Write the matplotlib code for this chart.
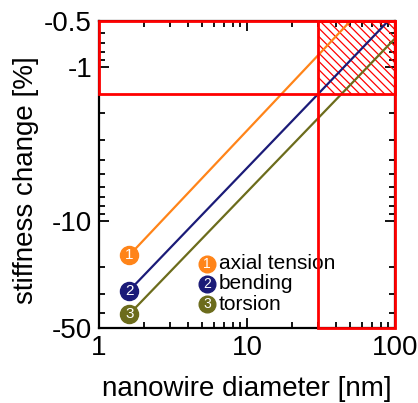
import numpy as np
import matplotlib.pyplot as plt
from matplotlib.patches import Rectangle
from matplotlib.ticker import FixedLocator, FixedFormatter, LogLocator, NullFormatter

plt.rcParams['font.family'] = ['Liberation Sans', 'DejaVu Sans']

# line endpoints (diameter in nm, |stiffness change| in %)
axial_d = [1.6, 50]
axial_s = [16.8, 0.5]
bending_d = [1.6, 90]
bending_s = [28.5, 0.5]
torsion_d = [1.6, 100]
torsion_s = [40.6, 0.65]

labels = ['axial tension', 'bending', 'torsion']
colors = ['#ff8419', '#1b1b78', '#6c6c1c']

# target window (diameter range, stiffness range)
win_d = [30, 100]
win_s = [0.5, 1.5]

y_ticks = [0.5, 1, 10, 50]
y_labels = ['-0.5', '-1', '-10', '-50']

fig = plt.figure(figsize=(4.18, 4.03), dpi=100)
ax = fig.add_axes([0.237, 0.186, 0.708, 0.762])

series = [(axial_d, axial_s), (bending_d, bending_s), (torsion_d, torsion_s)]
for i, ((d, s), c) in enumerate(zip(series, colors)):
    ax.plot(d, s, color=c, lw=1.6, zorder=3)
    ax.plot(d[0], s[0], 'o', color=c, ms=13, zorder=4)
    ax.annotate(str(i + 1), (d[0], s[0]), ha='center', va='center', color='white',
                fontsize=11, zorder=5)

ax.set_xscale('log')
ax.set_yscale('log')
ax.set_xlim(1, 100)
ax.set_ylim(50, 0.5)

ax.yaxis.set_major_locator(FixedLocator(y_ticks))
ax.yaxis.set_major_formatter(FixedFormatter(y_labels))
ax.yaxis.set_minor_locator(LogLocator(base=10, subs=range(2, 10)))
ax.yaxis.set_minor_formatter(NullFormatter())
ax.xaxis.set_major_locator(FixedLocator([1, 10, 100]))
ax.xaxis.set_major_formatter(FixedFormatter(['1', '10', '100']))
ax.xaxis.set_minor_locator(LogLocator(base=10, subs=range(2, 10)))
ax.xaxis.set_minor_formatter(NullFormatter())

ax.tick_params(which='both', direction='in', top=True, right=True, width=1.3, labelsize=20)
ax.tick_params(which='major', length=7, pad=5)
ax.tick_params(which='minor', length=4)
for sp in ax.spines.values():
    sp.set_linewidth(1.6)

# red boxes
ax.add_patch(Rectangle((1, win_s[0]), 99, win_s[1] - win_s[0], fill=False,
                       edgecolor='red', lw=2, clip_on=False, zorder=6))
ax.add_patch(Rectangle((win_d[0], 0.5), win_d[1] - win_d[0], 49.5, fill=False,
                       edgecolor='red', lw=2, clip_on=False, zorder=6))
clip = Rectangle((win_d[0], win_s[0]), win_d[1] - win_d[0], win_s[1] - win_s[0],
                 fill=False, lw=0)
ax.add_patch(clip)

# hatch: 45 degree lines (in pixels), about 8 px apart
fig.canvas.draw()
bb = ax.get_window_extent()
ratio = bb.width / bb.height
step = 8.3 / bb.width
for c in np.arange(0.55, 1.35, step):
    hx = np.array([c - 0.4, c + 0.4])
    hy = 1 - (hx - c) * ratio
    ln, = ax.plot(hx, hy, color='red', lw=0.9, transform=ax.transAxes, zorder=2)
    ln.set_clip_path(clip)

# manual legend
for i, (lab, c) in enumerate(zip(labels, colors)):
    yy = 0.21 - i * 0.066
    ax.plot(0.364, yy, 'o', color=c, ms=12, transform=ax.transAxes, zorder=5)
    ax.text(0.364, yy, str(i + 1), color='white', fontsize=10, ha='center', va='center',
            transform=ax.transAxes, zorder=6)
    ax.text(0.405, yy, lab, fontsize=15, ha='left', va='center', transform=ax.transAxes)

ax.set_xlabel('nanowire diameter [nm]', fontsize=20, labelpad=11)
ax.set_ylabel('stiffness change [%]', fontsize=20, labelpad=4)
ax.yaxis.label.set_y(0.482)

fig.savefig('out.png', dpi=100)
